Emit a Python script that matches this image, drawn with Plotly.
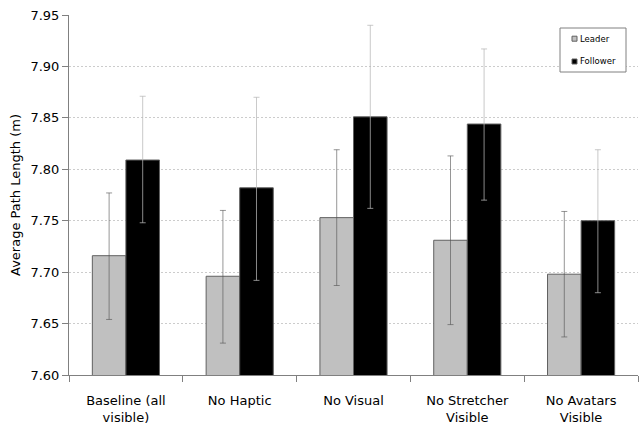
import plotly.graph_objects as go

categories = ["Baseline (all<br>visible)", "No Haptic", "No Visual", "No Stretcher<br>Visible", "No Avatars<br>Visible"]
leader = [7.716, 7.696, 7.753, 7.731, 7.698]
leader_err_plus = [0.061, 0.064, 0.066, 0.082, 0.061]
leader_err_minus = [0.062, 0.065, 0.066, 0.082, 0.061]
follower = [7.809, 7.782, 7.851, 7.844, 7.750]
follower_err_plus = [0.062, 0.088, 0.089, 0.073, 0.069]
follower_err_minus = [0.061, 0.090, 0.089, 0.074, 0.070]
y_ticks = [7.60, 7.65, 7.70, 7.75, 7.80, 7.85, 7.90, 7.95]
series_names = ["Leader", "Follower"]
series_colors = ["#c0c0c0", "#000000"]

font_family = "DejaVu Sans"

# plot area in pixels (for placing the hand-made legend)
L, R, T, B = 69, 638, 15, 375
W, H = R - L, B - T
def px(x):
    return (x - L) / W
def py(y):
    return (B - y) / H

fig = go.Figure()
fig.add_trace(go.Bar(
    name=series_names[0], x=categories, y=leader, showlegend=False,
    marker=dict(color=series_colors[0], line=dict(color="#606060", width=1)),
    error_y=dict(type="data", symmetric=False, array=leader_err_plus, arrayminus=leader_err_minus,
                 color="rgba(80,80,80,0.6)", thickness=1, width=3),
))
fig.add_trace(go.Bar(
    name=series_names[1], x=categories, y=follower, showlegend=False,
    marker=dict(color=series_colors[1], line=dict(color="#606060", width=1)),
    error_y=dict(type="data", symmetric=False, array=follower_err_plus, arrayminus=follower_err_minus,
                 color="rgba(183,183,183,0.75)", thickness=1, width=3),
))

# legend box
shapes = [dict(type="rect", xref="paper", yref="paper",
               x0=px(560), x1=px(626), y0=py(72), y1=py(28),
               line=dict(color="#808080", width=1), fillcolor="white", layer="above")]
annotations = []
for i, (name, col) in enumerate(zip(series_names, series_colors)):
    cy = [38.7, 61.5][i]
    shapes.append(dict(type="rect", xref="paper", yref="paper",
                       x0=px(572), x1=px(577), y0=py(cy + 2.5), y1=py(cy - 2.5),
                       line=dict(color="#606060", width=1), fillcolor=col, layer="above"))
    annotations.append(dict(xref="paper", yref="paper", x=px(578), y=py(cy),
                            xanchor="left", yanchor="middle", showarrow=False,
                            text=name, font=dict(family=font_family, size=8.5, color="black")))

fig.update_layout(
    width=639, height=428,
    margin=dict(l=L, r=639 - R, t=T, b=428 - B, autoexpand=False),
    paper_bgcolor="white", plot_bgcolor="white",
    font=dict(family=font_family, size=13, color="black"),
    barmode="group", bargap=0.41, bargroupgap=0,
    showlegend=False,
    shapes=shapes, annotations=annotations,
)
fig.update_xaxes(
    type="category", showline=True, linecolor="#808080", linewidth=1,
    ticks="outside", tickson="boundaries", ticklen=6, tickcolor="#808080",
    showgrid=False, ticklabelstandoff=13, automargin=False,
)
fig.update_yaxes(
    range=[7.60, 7.95], tickvals=y_ticks, ticktext=[f"{v:.2f}" for v in y_ticks],
    showline=True, linecolor="#808080", linewidth=1,
    ticks="outside", ticklen=6, tickcolor="#808080",
    showgrid=True, gridcolor="#cccccc", griddash="2px,2px", gridwidth=1,
    zeroline=False, automargin=False,
    title=dict(text="Average Path Length (m)", standoff=6, font=dict(size=13)),
)

fig.write_html("out.html", config={"displayModeBar": False},
               post_script="document.body.style.margin='0';document.body.style.overflow='hidden';")
